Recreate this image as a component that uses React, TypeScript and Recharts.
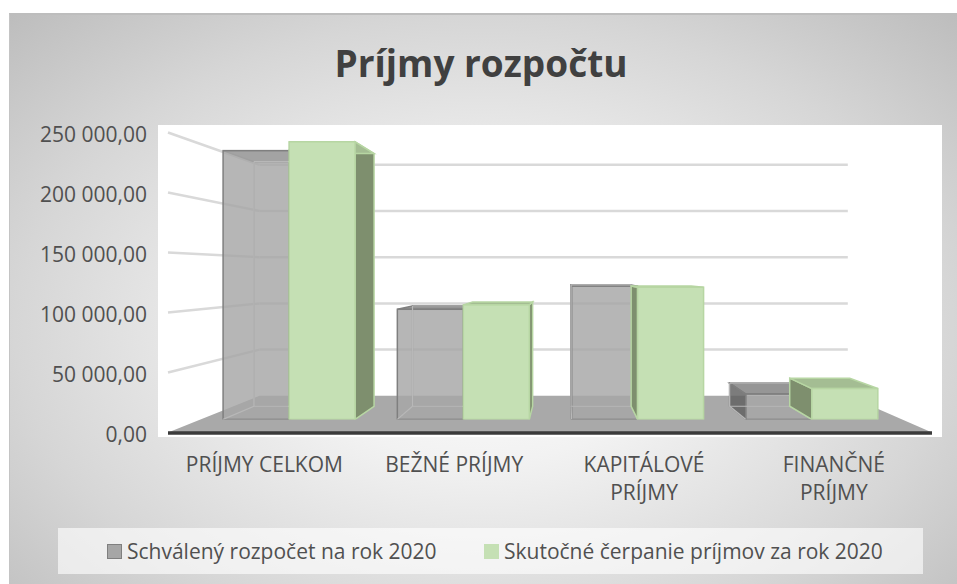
import React from 'react';
import { BarChart, Bar, XAxis, YAxis, Legend, Customized } from 'recharts';

// ---------- data ----------
const title = 'Príjmy rozpočtu';
const categories = ['PRÍJMY CELKOM', 'BEŽNÉ PRÍJMY', 'KAPITÁLOVÉ PRÍJMY', 'FINANČNÉ PRÍJMY'];
const seriesNames = ['Schválený rozpočet na rok 2020', 'Skutočné čerpanie príjmov za rok 2020'];
const approved = [244000, 100000, 121000, 23000];
const actual = [252000, 104000, 120000, 28000];
const yTicks = [0, 50000, 100000, 150000, 200000, 250000];

const data = categories.map((name, i) => ({ name, approved: approved[i], actual: actual[i] }));

// ---------- 3D room geometry (perspective model) ----------
const W = 957;
const H = 584;
const VPX = 566; // vanishing point
const VPY = 273;
const FRONT_BASE = 432.5; // floor front edge y
const FRONT_PX = 0.0012; // px per unit on front plane
const FRONT_LEFT = 168;
const FRONT_RIGHT = 932;
const BACK_S = 0.77; // back wall depth factor
const BAR_S = 0.918; // bars' front face depth factor
const BAR_DEPTH = 0.91; // bar back face relative to its front face
const Y_MAX = 280000;

const proj = (x: number, y: number, s: number): [number, number] => [VPX + (x - VPX) * s, VPY + (y - VPY) * s];
const barBase = proj(0, FRONT_BASE, BAR_S)[1];
const barPx = FRONT_PX * BAR_S;
const plotTop = barBase - Y_MAX * barPx;
const X_AXIS_H = 60;

const FONT = "'Open Sans', sans-serif";
const FS = 21;
const TXT = '#505050';

const GRAY = { front: '#a6a6a6', top: '#7f7f7f', side: '#5f5f5f', stroke: '#7f7f7f' };
const GREEN = { front: '#c5e0b4', top: '#a4bd93', side: '#7e8f6e', stroke: '#b7d6a3' };

const pts = (arr: [number, number][]) => arr.map((p) => p.join(',')).join(' ');

const fmt = (v: number) =>
  v.toLocaleString('sk-SK', { minimumFractionDigits: 2, maximumFractionDigits: 2 }).replace(/[\u00a0\u202f]/g, ' ');

function makeBox(c: typeof GRAY, transparent: boolean) {
  return (props: any) => {
    const { x, y, width, height } = props;
    if (!height || height <= 0) return <g />;
    const p = (px: number, py: number): [number, number] => [VPX + (px - VPX) * BAR_DEPTH, VPY + (py - VPY) * BAR_DEPTH];
    const ftl: [number, number] = [x, y];
    const ftr: [number, number] = [x + width, y];
    const fbr: [number, number] = [x + width, y + height];
    const fbl: [number, number] = [x, y + height];
    const btl = p(x, y);
    const btr = p(x + width, y);
    const bbr = p(x + width, y + height);
    const bbl = p(x, y + height);
    const op = transparent ? 0.82 : 1;
    return (
      <g>
        {transparent && (
          <polygon points={pts([btl, btr, bbr, bbl])} fill="none" stroke="#9a9a9a" strokeWidth={1.5} />
        )}
        {x + width < VPX && (
          <polygon points={pts([ftr, btr, bbr, fbr])} fill={c.side} fillOpacity={op} stroke={c.stroke} strokeWidth={1.5} />
        )}
        {x > VPX && (
          <polygon points={pts([ftl, btl, bbl, fbl])} fill={c.side} fillOpacity={op} stroke={c.stroke} strokeWidth={1.5} />
        )}
        <polygon points={pts([ftl, ftr, btr, btl])} fill={c.top} fillOpacity={op} stroke={c.stroke} strokeWidth={1.5} />
        <rect x={x} y={y} width={width} height={height} fill={c.front} fillOpacity={op} stroke={c.stroke} strokeWidth={1.5} />
        {transparent && (
          <g stroke="#b8b8b8" strokeWidth={1.2} fill="none">
            <polyline points={pts([btl, btr, bbr, bbl, btl])} />
            <line x1={fbl[0]} y1={fbl[1]} x2={bbl[0]} y2={bbl[1]} />
            <line x1={fbr[0]} y1={fbr[1]} x2={bbr[0]} y2={bbr[1]} />
          </g>
        )}
      </g>
    );
  };
}

const GrayBox = makeBox(GRAY, true);
const GreenBox = makeBox(GREEN, false);

function Scene() {
  const fl: [number, number] = [FRONT_LEFT, FRONT_BASE];
  const fr: [number, number] = [FRONT_RIGHT, FRONT_BASE];
  const br = proj(FRONT_RIGHT, FRONT_BASE, BACK_S);
  const bl = proj(FRONT_LEFT, FRONT_BASE, BACK_S);
  return (
    <g>
      <rect x={158} y={125} width={784} height={312} fill="#ffffff" />
      {yTicks.filter((v) => v > 0).map((v) => {
        const fy = FRONT_BASE - v * FRONT_PX;
        const [lx, ly] = proj(FRONT_LEFT, fy, BACK_S);
        const [rx] = proj(FRONT_RIGHT, fy, BACK_S);
        return (
          <g key={v} stroke="#d9d9d9" strokeWidth={2.5}>
            <line x1={FRONT_LEFT} y1={fy} x2={lx} y2={ly} />
            <line x1={lx} y1={ly} x2={rx} y2={ly} />
          </g>
        );
      })}
      <polygon points={pts([fl, fr, br, bl])} fill="#a9a9a9" />
      <line x1={FRONT_LEFT} y1={FRONT_BASE + 0.5} x2={FRONT_RIGHT} y2={FRONT_BASE + 0.5} stroke="#3a3a3a" strokeWidth={3.5} />
      {yTicks.map((v) => (
        <text key={v} x={147} y={FRONT_BASE + 1.5 - v * FRONT_PX + 7.5} textAnchor="end" fontFamily={FONT} fontSize={FS} fill={TXT}>
          {fmt(v)}
        </text>
      ))}
      <text x={481} y={77} textAnchor="middle" fontFamily={FONT} fontWeight={700} fontSize={37} fill="#404040">
        {title}
      </text>
    </g>
  );
}

const XTick = (props: any) => {
  const { x, payload } = props;
  const label: string = payload?.value ?? '';
  const lx = VPX + (x - VPX) / BAR_S;
  const lines = label.length > 13 ? label.split(' ') : [label];
  return (
    <text textAnchor="middle" fontFamily={FONT} fontSize={FS} fill={TXT}>
      {lines.map((l, i) => (
        <tspan key={i} x={lx} y={FRONT_BASE + 39.5 + i * 28}>
          {l}
        </tspan>
      ))}
    </text>
  );
};

const LegendContent = () => {
  const cols = [GRAY, GREEN];
  const lefts = [49, 426];
  return (
    <div style={{ position: 'relative', width: 865, height: 46, background: 'rgba(255,255,255,0.62)', fontFamily: FONT, fontSize: FS, color: TXT }}>
      {seriesNames.map((n, i) => (
        <div key={n} style={{ position: 'absolute', left: lefts[i], top: 0, height: 46, display: 'flex', alignItems: 'center', whiteSpace: 'nowrap' }}>
          <span style={{ display: 'inline-block', width: 13, height: 13, background: cols[i].front, border: `1px solid ${i === 0 ? cols[i].stroke : cols[i].front}`, marginRight: 5 }} />
          <span>{n}</span>
        </div>
      ))}
    </div>
  );
};

export default function App() {
  return (
    <div style={{ position: 'absolute', left: 0, top: 0, width: W, height: H }}>
      <div
        style={{
          position: 'absolute',
          left: 9,
          top: 13,
          width: W - 9,
          height: H - 13,
          boxSizing: 'border-box',
          borderTop: '2px solid #bdbdbd',
          borderLeft: '1px solid #c4c4c4',
          background: 'radial-gradient(ellipse farthest-corner at 50% 55%, #ffffff 0%, #f2f2f2 30%, #d6d6d6 70%, #bdbdbd 100%)',
        }}
      />
      <div style={{ position: 'absolute', left: 0, top: 0 }}>
        <BarChart
          width={W}
          height={H}
          data={data}
          margin={{ top: plotTop, bottom: H - barBase - X_AXIS_H, left: 202, right: 58 }}
          barCategoryGap="12.1%"
          barGap={0}
        >
          <Customized component={Scene} />
          <XAxis dataKey="name" height={X_AXIS_H} axisLine={false} tickLine={false} tick={<XTick />} interval={0} />
          <YAxis hide domain={[0, Y_MAX]} ticks={yTicks} allowDataOverflow />
          <Legend
            layout="horizontal"
            verticalAlign="middle"
            align="center"
            wrapperStyle={{ position: 'absolute', left: 58, top: 528, width: 865, height: 46 }}
            content={<LegendContent />}
          />
          <Bar dataKey="approved" name={seriesNames[0]} fill={GRAY.front} shape={<GrayBox />} isAnimationActive={false} />
          <Bar dataKey="actual" name={seriesNames[1]} fill={GREEN.front} shape={<GreenBox />} isAnimationActive={false} />
        </BarChart>
      </div>
    </div>
  );
}
